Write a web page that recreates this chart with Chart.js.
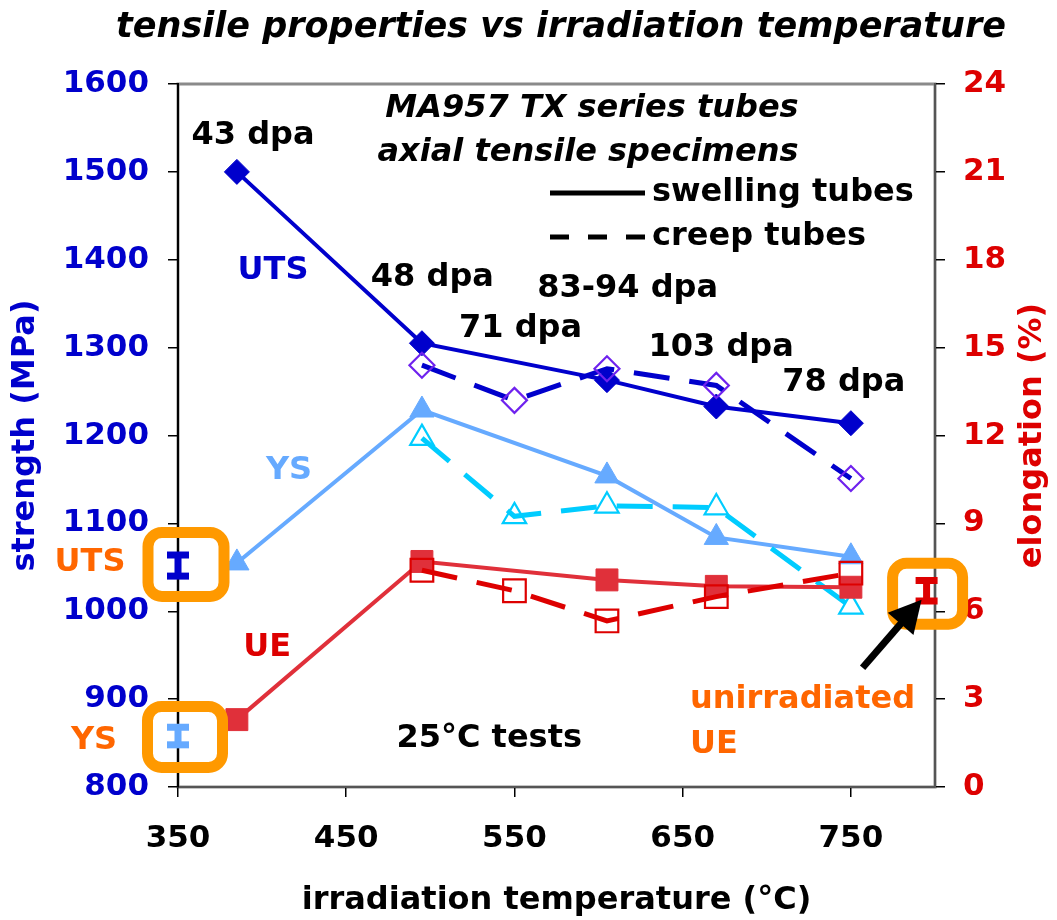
<!DOCTYPE html>
<html>
<head>
<meta charset="utf-8">
<script src="https://cdn.jsdelivr.net/npm/chart.js@4.4.1/dist/chart.umd.min.js"></script>
<style>
  html, body { margin: 0; padding: 0; background: #ffffff; }
  #c { display: block; }
</style>
</head>
<body>
<canvas id="c" width="1057" height="920"></canvas>
<script>
// ---- data -------------------------------------------------------------
const tempTicks       = [350, 450, 550, 650, 750];
const strengthTicks   = [800, 900, 1000, 1100, 1200, 1300, 1400, 1500, 1600];
const elongationTicks = [0, 3, 6, 9, 12, 15, 18, 21, 24];

const swellingTemps = [385, 495, 605, 670, 750];
const creepTemps    = [495, 550, 605, 670, 750];

const utsSwelling = [1500, 1305, 1263, 1233, 1214];
const utsCreep    = [1280, 1240, 1276, 1257, 1151];
const ysSwelling  = [1055, 1229, 1154, 1084, 1062];
const ysCreep     = [1197, 1108, 1120, 1118, 1005];
const ueSwelling  = [2.3, 7.7, 7.07, 6.85, 6.82];
const ueCreep     = [7.4, 6.7, 5.67, 6.5, 7.3];

// unirradiated reference values: [temperature, mean, half-range]
const utsUnirradiated = [350, 1052, 12];
const ysUnirradiated  = [350, 858, 10];
const ueUnirradiated  = [795, 6.7, 0.35];

// ---- styling ----------------------------------------------------------
const FAMILY = "'DejaVu Sans', Verdana, sans-serif";
const BLUE = '#0000CC', LIGHT = '#66AAFF', CYAN = '#00CCFF', VIOLET = '#6F22EE';
const RED = '#E0303A', RED2 = '#DD0000', BOX = '#FF9900', ORANGE = '#FF6600';
const DASH = [36, 20];

const pts = (xs, ys) => xs.map((x, i) => ({ x: x, y: ys[i] }));

function solid(label, xs, ys, color, style, radius, axis) {
  return {
    label, data: pts(xs, ys), yAxisID: axis,
    borderColor: color, borderWidth: 4, tension: 0,
    pointStyle: style, pointRadius: radius, pointHoverRadius: radius,
    pointBackgroundColor: color, pointBorderColor: color, pointBorderWidth: 1
  };
}
function dashed(label, xs, ys, color, markColor, style, radius, axis) {
  return {
    label, data: pts(xs, ys), yAxisID: axis,
    borderColor: color, borderWidth: 5, borderDash: DASH, tension: 0,
    pointStyle: style, pointRadius: radius, pointHoverRadius: radius,
    pointBackgroundColor: 'rgba(0,0,0,0)', pointBorderColor: markColor, pointBorderWidth: 2.2
  };
}

// ---- annotations --------------------------------------------------------
const dataLabels = [
  { text: '43 dpa',    x: 394.6, y: 1541.7, color: '#000' },
  { text: '48 dpa',    x: 501.2, y: 1380,   color: '#000' },
  { text: '71 dpa',    x: 553.6, y: 1321,   color: '#000' },
  { text: '83-94 dpa', x: 617.3, y: 1366.6, color: '#000' },
  { text: '103 dpa',   x: 672.9, y: 1299.4, color: '#000' },
  { text: '78 dpa',    x: 745.8, y: 1259.6, color: '#000' },
  { text: 'UTS',       x: 406.5, y: 1388,   color: BLUE },
  { text: 'YS',        x: 416,   y: 1160,   color: LIGHT },
  { text: 'UE',        x: 403,   y: 958,    color: RED2 },
  { text: '25°C tests', x: 535,  y: 854.6,  color: '#000' }
];

function drawText(ctx, text, x, y, opts) {
  ctx.save();
  ctx.font = (opts.italic ? 'italic ' : '') + 'bold ' + (opts.size || 32) + 'px ' + FAMILY;
  ctx.fillStyle = opts.color || '#000';
  ctx.textAlign = opts.align || 'center';
  ctx.textBaseline = opts.baseline || 'middle';
  if (opts.rotate) {
    ctx.translate(x, y);
    ctx.rotate(opts.rotate);
    ctx.fillText(text, 0, 0);
  } else {
    ctx.fillText(text, x, y);
  }
  ctx.restore();
}

function errorBar(ctx, xs, ys, rec, color) {
  const x = xs.getPixelForValue(rec[0]);
  const top = ys.getPixelForValue(rec[1] + rec[2]);
  const bot = ys.getPixelForValue(rec[1] - rec[2]);
  ctx.save();
  ctx.fillStyle = color;
  ctx.fillRect(x - 3.5, top, 7, bot - top);
  ctx.fillRect(x - 11, top - 3.5, 22, 7);
  ctx.fillRect(x - 11, bot - 3.5, 22, 7);
  ctx.restore();
  return { x: x, y: ys.getPixelForValue(rec[1]) };
}

function roundBox(ctx, cx, cy, w, h) {
  ctx.save();
  ctx.strokeStyle = BOX;
  ctx.lineWidth = 11;
  ctx.beginPath();
  ctx.roundRect(cx - w / 2, cy - h / 2, w, h, 14);
  ctx.stroke();
  ctx.restore();
}

function arrow(ctx, x0, y0, x1, y1) {
  const dx = x1 - x0, dy = y1 - y0, len = Math.hypot(dx, dy);
  const ux = dx / len, uy = dy / len, px = -uy, py = ux;
  const headLen = 32, headHalf = 17;
  const bx = x1 - ux * headLen, by = y1 - uy * headLen;
  ctx.save();
  ctx.strokeStyle = '#000';
  ctx.fillStyle = '#000';
  ctx.lineWidth = 7;
  ctx.beginPath();
  ctx.moveTo(x0, y0);
  ctx.lineTo(bx + ux * 2, by + uy * 2);
  ctx.stroke();
  ctx.beginPath();
  ctx.moveTo(x1, y1);
  ctx.lineTo(bx + px * headHalf, by + py * headHalf);
  ctx.lineTo(bx - px * headHalf, by - py * headHalf);
  ctx.closePath();
  ctx.fill();
  ctx.restore();
}

const framePlugin = {
  id: 'frame',
  beforeDraw(chart) {
    const { ctx, chartArea: a } = chart;
    ctx.save();
    ctx.fillStyle = '#fff';
    ctx.fillRect(0, 0, chart.width, chart.height);
    ctx.strokeStyle = '#8a8a8a';
    ctx.lineWidth = 3;
    ctx.strokeRect(a.left, a.top, a.right - a.left, a.bottom - a.top);
    ctx.restore();
  }
};

const notesPlugin = {
  id: 'notes',
  afterDatasetsDraw(chart) {
    const { ctx, chartArea: a } = chart;
    const xs = chart.scales.x, ys = chart.scales.y, ys2 = chart.scales.y2;

    // unirradiated values with their highlight boxes
    const uts = errorBar(ctx, xs, ys, utsUnirradiated, BLUE);
    const ysb = errorBar(ctx, xs, ys, ysUnirradiated, LIGHT);
    const ue  = errorBar(ctx, xs, ys2, ueUnirradiated, RED2);
    roundBox(ctx, uts.x + 8, uts.y - 1, 76, 64);
    roundBox(ctx, ysb.x + 7, ysb.y + 1, 75, 61);
    roundBox(ctx, ue.x + 1, ue.y + 3, 70, 61);
    arrow(ctx, ue.x - 64, ue.y + 77, ue.x - 5, ue.y + 9);

    drawText(ctx, 'UTS', uts.x - 88, uts.y - 3, { color: ORANGE });
    drawText(ctx, 'YS', ysb.x - 84, ysb.y + 5, { color: ORANGE });
    drawText(ctx, 'unirradiated', 690, 700, { color: ORANGE, align: 'left' });
    drawText(ctx, 'UE', 690, 745, { color: ORANGE, align: 'left' });

    // dose and property labels, placed in data units
    dataLabels.forEach(l => {
      drawText(ctx, l.text, xs.getPixelForValue(l.x), ys.getPixelForValue(l.y), { color: l.color });
    });

    // specimen description and line-style key
    drawText(ctx, 'MA957 TX series tubes', 592, 109, { italic: true });
    drawText(ctx, 'axial tensile specimens', 588, 153, { italic: true });
    ctx.save();
    ctx.strokeStyle = '#000';
    ctx.lineWidth = 5;
    ctx.beginPath();
    ctx.moveTo(550, 193); ctx.lineTo(645, 193);
    ctx.stroke();
    ctx.setLineDash([19, 19]);
    ctx.beginPath();
    ctx.moveTo(550, 237); ctx.lineTo(645, 237);
    ctx.stroke();
    ctx.restore();
    drawText(ctx, 'swelling tubes', 652, 193, { align: 'left' });
    drawText(ctx, 'creep tubes', 652, 237, { align: 'left' });

    // chart heading and right-hand axis title
    drawText(ctx, 'tensile properties vs irradiation temperature', 561, 37,
             { italic: true, size: 35, baseline: 'alphabetic' });
    drawText(ctx, 'elongation (%)', 1033, (a.top + a.bottom) / 2,
             { color: RED2, rotate: -Math.PI / 2 });
  }
};

const tickFont = { family: FAMILY, size: 31, weight: 'bold' };
const titleFont = { family: FAMILY, size: 32, weight: 'bold' };
const tickGrid = { drawOnChartArea: false, drawTicks: true, tickLength: 10, color: '#000', lineWidth: 1.5 };
const plain = v => String(v);

new Chart(document.getElementById('c'), {
  type: 'line',
  data: {
    datasets: [
      dashed('UE creep tubes', creepTemps, ueCreep, RED2, RED2, 'rect', 16, 'y2'),
      solid('UE swelling tubes', swellingTemps, ueSwelling, RED, 'rect', 15.5, 'y2'),
      dashed('YS creep tubes', creepTemps, ysCreep, CYAN, CYAN, 'triangle', 13.5, 'y'),
      solid('YS swelling tubes', swellingTemps, ysSwelling, LIGHT, 'triangle', 14, 'y'),
      dashed('UTS creep tubes', creepTemps, utsCreep, BLUE, VIOLET, 'rectRot', 12.5, 'y'),
      solid('UTS swelling tubes', swellingTemps, utsSwelling, BLUE, 'rectRot', 12.5, 'y')
    ]
  },
  options: {
    responsive: false,
    animation: false,
    devicePixelRatio: 1,
    layout: { padding: { top: 84, left: 0, right: 0, bottom: 0 } },
    plugins: { legend: { display: false }, tooltip: { enabled: false }, title: { display: false } },
    scales: {
      x: {
        type: 'linear', position: 'bottom', min: 350, max: 800,
        afterBuildTicks: s => { s.ticks = tempTicks.map(v => ({ value: v })); },
        afterFit: s => { s.height = 133; },
        ticks: { font: tickFont, color: '#000', padding: 23, autoSkip: false, maxRotation: 0, callback: plain },
        grid: tickGrid,
        border: { color: '#555', width: 2 },
        title: { display: true, text: 'irradiation temperature (°C)', font: titleFont, color: '#000',
                 padding: { top: 0, bottom: 0 } }
      },
      y: {
        type: 'linear', position: 'left', min: 800, max: 1600,
        afterBuildTicks: s => { s.ticks = strengthTicks.map(v => ({ value: v })); },
        afterFit: s => { s.width = 178; },
        ticks: { font: tickFont, color: BLUE, padding: 19, callback: plain },
        grid: tickGrid,
        border: { color: '#000', width: 2 },
        title: { display: true, text: 'strength (MPa)', font: titleFont, color: BLUE,
                 padding: { top: 6, bottom: 0 } }
      },
      y2: {
        type: 'linear', position: 'right', min: 0, max: 24,
        afterBuildTicks: s => { s.ticks = elongationTicks.map(v => ({ value: v })); },
        afterFit: s => { s.width = 122; },
        ticks: { font: tickFont, color: RED2, padding: 18, callback: plain },
        grid: tickGrid,
        border: { color: '#555', width: 2 }
      }
    }
  },
  plugins: [framePlugin, notesPlugin]
});
</script>
</body>
</html>
